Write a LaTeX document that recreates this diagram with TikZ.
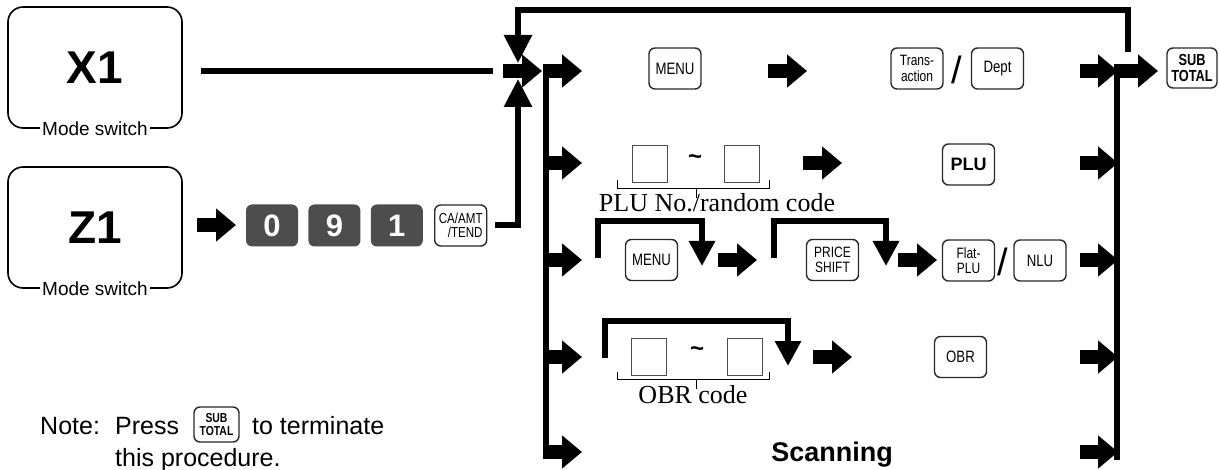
\documentclass[tikz,border=0pt]{standalone}
\usepackage{fontspec}
\setmainfont{Liberation Sans}
\newfontfamily\serifface{Liberation Serif}
\newfontfamily\narrowface[FakeStretch=0.8]{Liberation Sans}
\usetikzlibrary{arrows.meta, positioning, calc}
\definecolor{keygray}{RGB}{77,77,77}
\definecolor{edgegray}{RGB}{40,40,40}

\tikzset{
  modebox/.style={draw, line width=1.6pt, rounded corners=15pt, minimum width=174pt,
    minimum height=121pt, font=\bfseries\fontsize{46}{46}\selectfont},
  modetxt/.style={fill=white, inner sep=2pt, font=\fontsize{19}{19}\selectfont},
  key/.style={draw=edgegray, line width=1.4pt, rounded corners=6pt, minimum width=52pt,
    minimum height=41pt, inner sep=0pt, align=center, font=\narrowface\fontsize{16.5}{14}\selectfont},
  twoline/.style={font=\narrowface\fontsize{15}{15.5}\selectfont},
  numkey/.style={fill=keygray, rounded corners=6pt, minimum width=52pt, minimum height=42pt,
    inner sep=0pt, text=white, font=\bfseries\fontsize{31}{31}\selectfont},
  blank/.style={draw=black!70, line width=1pt, minimum width=35pt, minimum height=37pt, inner sep=0pt},
  tilde/.style={inner sep=0pt, font=\bfseries\fontsize{24}{24}\selectfont},
  slash/.style={inner sep=0pt, font=\fontsize{38}{38}\selectfont},
  codetxt/.style={inner sep=0pt, anchor=base, font=\serifface\fontsize{26}{26}\selectfont},
  notetxt/.style={inner sep=0pt, anchor=base west, font=\fontsize{25}{25}\selectfont},
  blk/.style={line width=14pt, -{Triangle[length=20pt, width=32pt]}},
  conn/.style={line width=6pt},
  hookarrow/.style={line width=6pt, -{Triangle[length=25pt, width=25pt]}},
  brace/.style={line width=0.8pt},
}

\begin{document}
\begin{tikzpicture}[x=1pt, y=-1pt]
  \useasboundingbox (0,0) rectangle (1220,470);

  % mode switch boxes
  \node[modebox] (x1) at (95,67.5) {X1};
  \node[modetxt] (x1m) at (x1.south) {Mode switch};
  \node[modebox] (z1) at (95,227.5) {Z1};
  \node[modetxt] (z1m) at (z1.south) {Mode switch};

  % Z1 key sequence
  \draw[blk] (197,225) -- (236,225);
  \node[numkey] (k0) at (272,225.5) {0};
  \node[numkey, right=10pt of k0] (k9) {9};
  \node[numkey, right=10pt of k9] (k1) {1};
  \node[key, right=11pt of k1, align=right, font=\narrowface\fontsize{14.5}{14}\selectfont] (catend) {CA/AMT\\/TEND};

  % junction
  \coordinate (jin) at (503,71);
  \coordinate (jout) at (542,71);
  \draw[blk] (jin) -- (jout);
  \draw[conn] ([xshift=18pt]x1.east |- jin) -- ([xshift=-10pt]jin);
  \draw[conn, -{Triangle[length=28pt, width=27pt]}] ([xshift=8pt]catend.east) -| (518,79);
  \draw[conn, -{Triangle[length=28pt, width=27pt]}] (1128,52) -- (1128,10) -- (518,10) -- (518,63);

  % the two buses
  \draw[conn] (546,64) -- (546,458);
  \draw[conn] (1117,64) -- (1117,460);
  \foreach \y in {71,163,260,357,452} {
    \draw[blk] (543,\y) -- (582,\y);
    \draw[blk] (1080,\y) -- (1118,\y);
  }
  \draw[blk] (1120,71) -- (1158,71);
  \node[key, minimum width=50pt, minimum height=40pt,
    font=\narrowface\bfseries\fontsize{16}{16}\selectfont] (subT) at (1192,68) {SUB\\TOTAL};

  % row 1
  \node[key] (menuA) at (675,68.5) {MENU};
  \draw[blk] (768,71) -- (807,71);
  \node[key, twoline] (trans) at (917,68.5) {Trans-\\action};
  \node[slash] (slA) at (957,70) {/};
  \node[key] (dept) at (997.5,68.5) {Dept};

  % row 2
  \node[blank] (b1) at (650,164.5) {};
  \node[tilde] (tl1) at (695,160) {\textasciitilde};
  \node[blank] (b2) at (741.5,164.5) {};
  \draw[brace] (617,180) -- (617,188) -- (769,188) -- (769,180);
  \draw[brace] (696,188) -- (696,198);
  \node[codetxt] (pluno) at (717,212) {PLU No./random code};
  \draw[blk] (803,163) -- (842,163);
  \node[key, font=\bfseries\fontsize{18}{18}\selectfont] (plu) at (968.5,164.5) {PLU};

  % row 3
  \draw[hookarrow] (598,258) -- (598,221) -- (702,221) -- (702,266);
  \node[key] (menuB) at (651.5,260) {MENU};
  \draw[blk] (718,260) -- (757,260);
  \draw[hookarrow] (774,258) -- (774,221) -- (886,221) -- (886,266);
  \node[key, twoline] (price) at (832.5,260) {PRICE\\SHIFT};
  \draw[blk] (898,260) -- (937,260);
  \node[key, twoline] (flat) at (968.5,260.5) {Flat-\\PLU};
  \node[slash] (slB) at (1003,262) {/};
  \node[key] (nlu) at (1040,260.5) {NLU};

  % row 4
  \draw[hookarrow] (605,358) -- (605,321) -- (788,321) -- (788,366);
  \node[blank] (b3) at (648.5,356.5) {};
  \node[tilde] (tl2) at (697,352) {\textasciitilde};
  \node[blank] (b4) at (744.5,356.5) {};
  \draw[brace] (617,372) -- (617,379) -- (769,379) -- (769,372);
  \draw[brace] (696,379) -- (696,389);
  \node[codetxt] (obrcode) at (693,403) {OBR code};
  \draw[blk] (813,357) -- (852,357);
  \node[key] (obr) at (960.5,357) {OBR};

  % row 5
  \node[inner sep=0pt, anchor=base, font=\bfseries\fontsize{27}{27}\selectfont] (scan) at (832,461) {Scanning};

  % note
  \node[notetxt] (note) at (40,434) {Note:};
  \node[notetxt] (press) at (115,434) {Press};
  \node[key, minimum width=45pt, minimum height=35pt,
    font=\narrowface\bfseries\fontsize{13}{13}\selectfont] (subN) at (216.5,424.5) {SUB\\TOTAL};
  \node[notetxt] (term) at (252,434) {to terminate};
  \node[notetxt] (proc) at (115,466) {this procedure.};
\end{tikzpicture}
\end{document}
